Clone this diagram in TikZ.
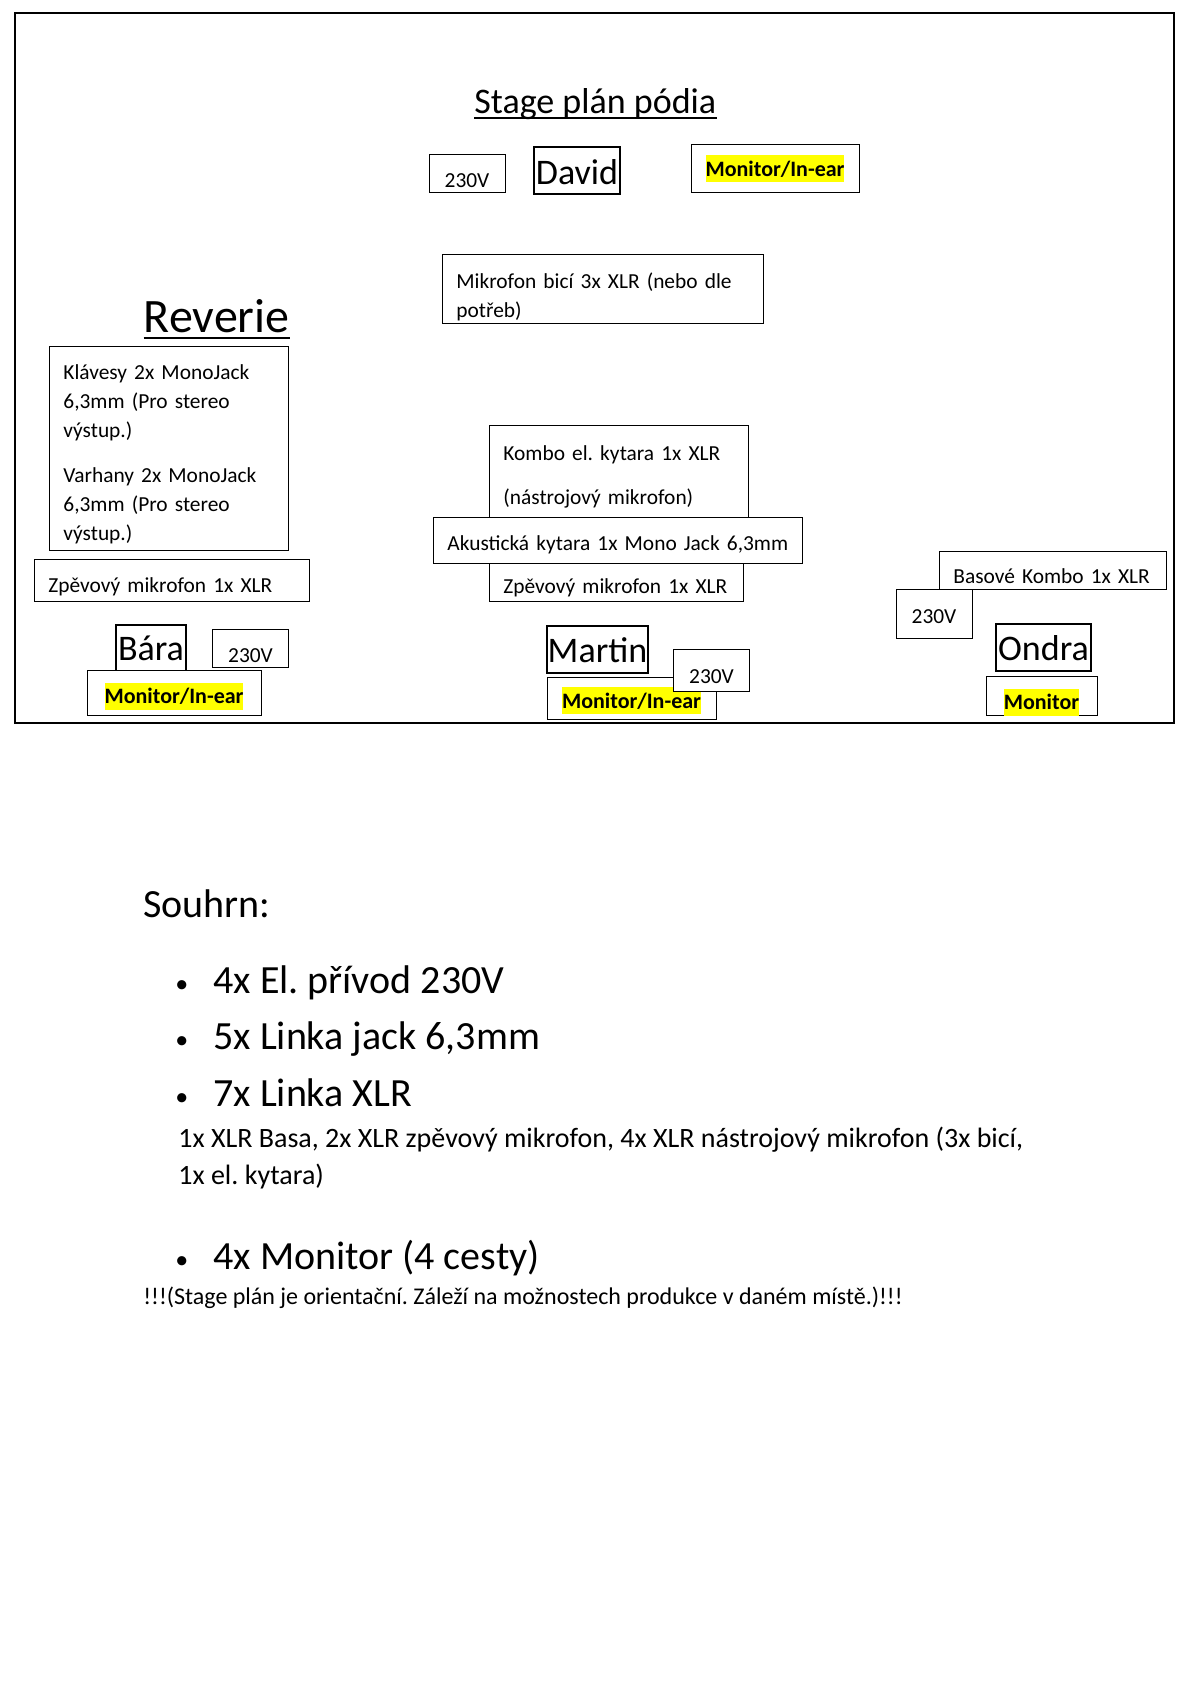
\documentclass[tikz,border=0pt]{standalone}
\usepackage{fontspec}
\setmainfont{Carlito}
\usepackage{xcolor}
\definecolor{marker}{RGB}{255,255,0}
\newcommand{\hl}[1]{{\setlength{\fboxsep}{0pt}\colorbox{marker}{\rule[-3pt]{0pt}{13.5pt}\textbf{#1}}}}
\newcommand{\bul}{\makebox[19pt][l]{\raisebox{0.5pt}{\fontsize{13}{13}\selectfont\textbullet}}}
\AtBeginDocument{\frenchspacing}

\begin{document}
\begin{tikzpicture}[x=0.5pt, y=-0.5pt]
    % Define box styles
    \tikzstyle{box}=[rectangle, draw=black, line width=0.5pt, fill=white, inner ysep=0pt, inner xsep=7.2pt, align=left, font=\fontsize{10.7}{14.5}\selectfont]
    \tikzstyle{power}=[box, align=center, inner xsep=0pt, minimum width=38pt, minimum height=19pt, text height=14pt, text depth=0pt]
    \tikzstyle{person}=[box, line width=1pt, align=center, inner xsep=0pt, font=\fontsize{18}{22}\selectfont, minimum height=23.5pt, text height=13pt, text depth=0pt]
    \tikzstyle{monitor}=[box, align=center, inner xsep=0pt, minimum height=21pt, text height=10pt, text depth=0pt, font=\fontsize{11}{14.5}\selectfont]
    \tikzstyle{heading}=[inner sep=0pt, anchor=base west]
    \tikzstyle{summary}=[inner sep=0pt, anchor=base west, font=\fontsize{20}{28}\selectfont]
    \tikzstyle{detail}=[inner sep=0pt, anchor=base west, font=\fontsize{14}{18}\selectfont]

    \useasboundingbox (0,0) rectangle (1190,1683);
    \draw[line width=0.7pt] (15,13) rectangle (1174,723);

    % Title
    \node[heading, font=\fontsize{18}{22}\selectfont] at (474,113) (title) {Stage plán pódia};
    \draw[line width=1pt] ([yshift=-2.5pt]title.base west) -- ([yshift=-2.5pt]title.base east);

    % David
    \node[power] at (467,173) (d230) {230V};
    \node[person, minimum width=42.75pt, text height=14pt] at (577,170.5) (david) {David};
    \node[monitor, minimum width=84pt, minimum height=24pt, text height=8pt] at (775,168) (dmon) {\hl{Monitor/In-ear}};
    \node[box, text width=146.1pt, minimum height=34.5pt] at (602.5,288.5) (drums) {\rule{0pt}{15.8pt}Mikrofon bicí 3x XLR (nebo dle\\potřeb)};

    % Reverie / Bara
    \node[heading, font=\fontsize{24}{29}\selectfont] at (143.5,332) (band) {Reverie};
    \draw[line width=1.2pt] ([yshift=-3pt]band.base west) -- ([yshift=-3pt]band.base east);
    \node[box, text width=105.1pt, minimum height=102pt] at (168.5,448) (keys) {\rule{0pt}{13.7pt}Klávesy 2x MonoJack\\6,3mm (Pro stereo\\výstup.)\\[8pt]Varhany 2x MonoJack\\6,3mm (Pro stereo\\výstup.)};
    \node[box, text width=123.1pt, minimum height=21pt, text height=12pt, text depth=0pt] at (171.5,580) (bmic) {\mbox{Zpěvový mikrofon 1x XLR}};
    \node[person, minimum width=35pt, minimum height=23pt, text height=12pt] at (151,648) (bara) {Bára};
    \node[power] at (250.5,648) (b230) {230V};
    \node[monitor, minimum width=87pt, minimum height=22.5pt, text height=11pt] at (174,692.5) (bmon) {\hl{Monitor/In-ear}};

    % Martin
    \node[box, text width=115.1pt, minimum height=51.8pt] at (618.5,476.8) (kombo) {Kombo el. kytara 1x XLR\\[7.5pt](nástrojový mikrofon)};
    \node[box, text width=170.1pt, minimum height=23pt, text height=10pt, text depth=0pt] at (617.5,540) (akust) {\mbox{Akustická kytara 1x Mono Jack 6,3mm}};
    \node[box, text width=112.6pt, minimum height=19pt, text height=11pt, text depth=0pt] at (616,582) (mmic) {\mbox{Zpěvový mikrofon 1x XLR}};
    \node[person, minimum width=50.5pt] at (597.5,649.5) (martin) {Martin};
    \node[monitor, minimum width=84.5pt] at (631.5,698) (mmon) {\hl{Monitor/In-ear}};
    \node[power, minimum height=21pt, text height=13pt] at (711.5,670) (m230) {230V};

    % Ondra
    \node[box, text width=99.1pt, minimum height=19pt, text height=13pt, text depth=0pt] at (1052.5,570) (bass) {\mbox{Basové Kombo 1x XLR}};
    \node[power, minimum height=24.5pt, text height=9.5pt] at (934,613.5) (o230) {230V};
    \node[person, minimum width=47.5pt] at (1043.5,647.5) (ondra) {Ondra};
    \node[monitor, minimum width=55.5pt, minimum height=19.5pt, text height=14pt] at (1041.5,695.5) (omon) {\hl{Monitor}};

    % Souhrn
    \node[summary] at (143,917) (sum) {Souhrn:};
    \node[summary] at (175,993) (sumpower) {\bul 4x El. přívod 230V};
    \node[summary] at (175,1049) (sumjack) {\bul 5x Linka jack 6,3mm};
    \node[summary] at (175,1106) (sumxlr) {\bul 7x Linka XLR};
    \node[detail] at (178,1147) (xlrlist) {1x XLR Basa, 2x XLR zpěvový mikrofon, 4x XLR nástrojový mikrofon (3x bicí,};
    \node[detail] at (178,1184) (xlrrest) {1x el. kytara)};
    \node[summary] at (175,1269) (summon) {\bul 4x Monitor (4 cesty)};
    \node[heading, font=\fontsize{12}{14.5}\selectfont] at (143,1304) (note) {!!!(Stage plán je orientační. Záleží na možnostech produkce v daném místě.)!!!};
\end{tikzpicture}
\end{document}
